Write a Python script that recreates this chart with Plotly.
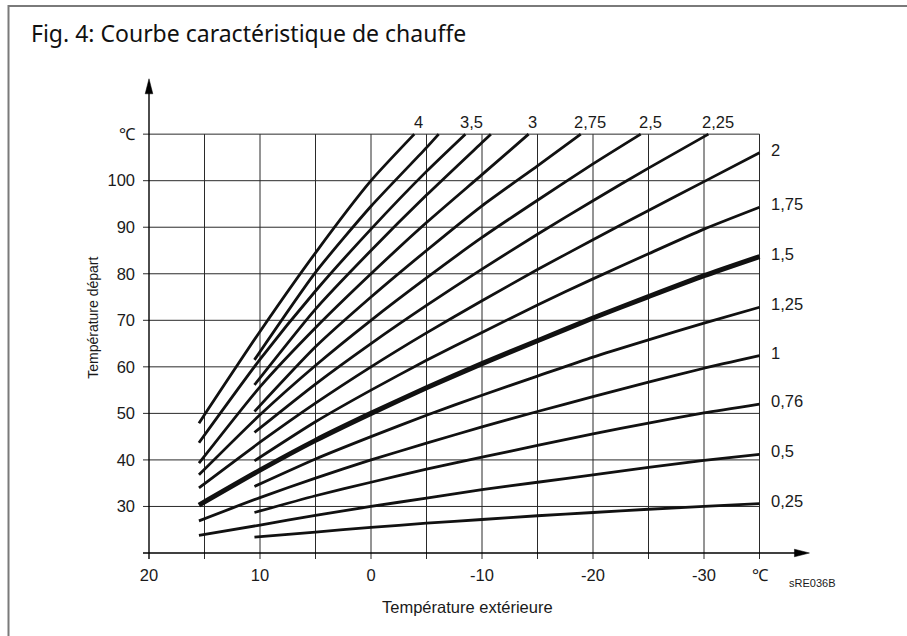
import plotly.graph_objects as go

# ---- axis grids (°C) -------------------------------------------------------
X_GRID = [20, 15, 10, 5, 0, -5, -10, -15, -20, -25, -30, -35]
X_LABELS = ["20", "", "10", "", "0", "", "-10", "", "-20", "", "-30", "℃"]
Y_GRID = [20, 30, 40, 50, 60, 70, 80, 90, 100, 110]
Y_LABELS = ["", "30", "40", "50", "60", "70", "80", "90", "100", "℃"]

# ---- heating curves: outdoor temperature -> flow temperature ---------------
T_OUT_LONG = [15.5, 10, 5, 0, -5, -10, -15, -20, -25, -30, -35]
T_OUT_SHORT = [10.5, 5, 0, -5, -10, -15, -20, -25, -30, -35]

curve_4_x = [15.5, 10, 5, 0, -3.9]
curve_4_y = [47.9, 67.6, 84.5, 100.0, 110]
curve_3_75_x = [10.5, 5, 0, -5, -6.1]
curve_3_75_y = [61.5, 80.3, 94.5, 107.1, 110]
curve_3_5_x = [15.5, 10, 5, 0, -5, -8.5]
curve_3_5_y = [43.7, 61.6, 76.3, 89.6, 102.0, 110]
curve_3_25_x = [10.5, 5, 0, -5, -10, -10.8]
curve_3_25_y = [56.1, 72.4, 85.0, 96.9, 108.2, 110]
curve_3_x = [15.5, 10, 5, 0, -5, -10, -14.2]
curve_3_y = [39.3, 55.7, 68.4, 80.0, 91.0, 101.3, 110]
curve_2_75_x = [10.5, 5, 0, -5, -10, -15, -18.9]
curve_2_75_y = [50.4, 64.3, 75.0, 85.0, 94.6, 103.2, 110]
curve_2_5_x = [15.5, 10, 5, 0, -5, -10, -15, -20, -24.3]
curve_2_5_y = [36.8, 49.7, 60.3, 70.0, 79.1, 87.8, 95.8, 103.6, 110]
curve_2_25_x = [10.5, 5, 0, -5, -10, -15, -20, -25, -30.4]
curve_2_25_y = [45.9, 56.3, 65.0, 73.2, 81.0, 88.5, 95.7, 102.7, 110]
curve_2_y = [34.0, 43.8, 52.2, 60.0, 67.3, 74.2, 80.9, 87.3, 93.6, 99.8, 106.0]
curve_1_75_y = [39.8, 48.2, 55.0, 61.4, 67.4, 73.3, 78.9, 84.3, 89.6, 94.3]
curve_1_5_y = [30.3, 37.8, 44.2, 50.0, 55.5, 60.7, 65.6, 70.5, 75.1, 79.6, 83.7]
curve_1_25_y = [34.3, 40.2, 45.0, 49.6, 53.9, 58.0, 62.1, 65.8, 69.4, 72.8]
curve_1_y = [26.9, 31.9, 36.1, 40.0, 43.6, 47.1, 50.4, 53.6, 56.7, 59.7, 62.4]
curve_0_76_y = [28.7, 32.3, 35.2, 38.0, 40.6, 43.1, 45.6, 47.9, 50.1, 52.0]
curve_0_5_y = [23.8, 26.0, 28.1, 30.0, 31.8, 33.6, 35.2, 36.8, 38.4, 39.9, 41.2]
curve_0_25_y = [23.4, 24.5, 25.5, 26.4, 27.2, 28.0, 28.7, 29.4, 30.0, 30.6]

# (label, x values, y values, label placement)
CURVES = [
    ("4", curve_4_x, curve_4_y, "top"),
    ("3,75", curve_3_75_x, curve_3_75_y, None),
    ("3,5", curve_3_5_x, curve_3_5_y, "top"),
    ("3,25", curve_3_25_x, curve_3_25_y, None),
    ("3", curve_3_x, curve_3_y, "top"),
    ("2,75", curve_2_75_x, curve_2_75_y, "top"),
    ("2,5", curve_2_5_x, curve_2_5_y, "top"),
    ("2,25", curve_2_25_x, curve_2_25_y, "top"),
    ("2", T_OUT_LONG, curve_2_y, "right"),
    ("1,75", T_OUT_SHORT, curve_1_75_y, "right"),
    ("1,5", T_OUT_LONG, curve_1_5_y, "right"),
    ("1,25", T_OUT_SHORT, curve_1_25_y, "right"),
    ("1", T_OUT_LONG, curve_1_y, "right"),
    ("0,76", T_OUT_SHORT, curve_0_76_y, "right"),
    ("0,5", T_OUT_LONG, curve_0_5_y, "right"),
    ("0,25", T_OUT_SHORT, curve_0_25_y, "right"),
]
HIGHLIGHT = "1,5"
TOP_SHIFT = {"4": 4, "3,5": 6, "3": 4, "2,75": 9, "2,5": 10, "2,25": 10}

# ---- page geometry -----------------------------------------------------------
W, H = 907, 636
ORIGIN_PX = (149, 553)          # where (20 °C, 20 °C) sits on the page
PX_PER_X, PX_PER_Y = 11.1, 4.65
TICK_PX = 6                     # tick marks poke out this far past the axes
X_RANGE = [X_GRID[0] + TICK_PX / PX_PER_X, -40]
Y_RANGE = [Y_GRID[0] - TICK_PX / PX_PER_Y, 124]
X_ARROW_TIP = -39.5
Y_ARROW_TIP = 121.9
HEAD_LEN, HEAD_HALF = 15, 3.8   # arrowhead size in pixels

L = ORIGIN_PX[0] - (X_RANGE[0] - X_GRID[0]) * PX_PER_X
R = W - (L + (X_RANGE[0] - X_RANGE[1]) * PX_PER_X)
B = H - ORIGIN_PX[1] - (Y_GRID[0] - Y_RANGE[0]) * PX_PER_Y
T = H - B - (Y_RANGE[1] - Y_RANGE[0]) * PX_PER_Y


def px_to_paper_x(px):
    return (px - L) / (W - L - R)


def px_to_paper_y(py):
    return (H - B - py) / (H - T - B)


TICK_FONT = dict(family="Liberation Sans, Arial, sans-serif", size=16.5, color="#1a1a1a")
INK = "#111111"
GRID = "#2a2a2a"

fig = go.Figure()

for name, xs, ys, _ in CURVES:
    fig.add_trace(go.Scatter(
        x=xs, y=ys, mode="lines", name=name, showlegend=False, hoverinfo="skip",
        line=dict(color=INK, width=5.0 if name == HIGHLIGHT else 2.8,
                  shape="spline", smoothing=0.6),
    ))

shapes = []
# grid lines double as tick marks: they run slightly past the axes
for xv in X_GRID[1:]:
    shapes.append(dict(type="line", xref="x", yref="y", x0=xv, x1=xv,
                       y0=Y_RANGE[0], y1=Y_GRID[-1], layer="below",
                       line=dict(color=GRID, width=1)))
for yv in Y_GRID[1:]:
    shapes.append(dict(type="line", xref="x", yref="y", x0=X_RANGE[0], x1=X_GRID[-1],
                       y0=yv, y1=yv, layer="below",
                       line=dict(color=GRID, width=1)))

# axes with arrowheads
hx = HEAD_LEN / PX_PER_X
hy = HEAD_HALF / PX_PER_Y
shapes.append(dict(type="line", xref="x", yref="y", x0=X_RANGE[0], x1=X_ARROW_TIP + hx * 0.5,
                   y0=Y_GRID[0], y1=Y_GRID[0], line=dict(color="black", width=1.4)))
shapes.append(dict(type="path", xref="x", yref="y",
                   path=(f"M {X_ARROW_TIP + hx} {Y_GRID[0] - hy} "
                         f"L {X_ARROW_TIP + hx} {Y_GRID[0] + hy} "
                         f"L {X_ARROW_TIP} {Y_GRID[0]} Z"),
                   fillcolor="black", line=dict(color="black", width=0.5)))
vy = HEAD_LEN / PX_PER_Y
vx = HEAD_HALF / PX_PER_X
shapes.append(dict(type="line", xref="x", yref="y", x0=X_GRID[0], x1=X_GRID[0],
                   y0=Y_RANGE[0], y1=Y_ARROW_TIP - vy * 0.5, line=dict(color="black", width=1.4)))
shapes.append(dict(type="path", xref="x", yref="y",
                   path=(f"M {X_GRID[0] - vx} {Y_ARROW_TIP - vy} "
                         f"L {X_GRID[0] + vx} {Y_ARROW_TIP - vy} "
                         f"L {X_GRID[0]} {Y_ARROW_TIP} Z"),
                   fillcolor="black", line=dict(color="black", width=0.5)))

# outer frame of the figure
shapes.append(dict(type="rect", xref="paper", yref="paper",
                   x0=px_to_paper_x(8.5), x1=px_to_paper_x(930),
                   y0=px_to_paper_y(660), y1=px_to_paper_y(6.5),
                   line=dict(color="#7a7a7a", width=2)))

annotations = []
for name, xs, ys, place in CURVES:
    if place == "top":
        annotations.append(dict(x=xs[-1], y=ys[-1], xref="x", yref="y", text=name,
                                showarrow=False, xanchor="center", yanchor="middle",
                                xshift=TOP_SHIFT[name], yshift=12, font=TICK_FONT))
    elif place == "right":
        annotations.append(dict(x=xs[-1], y=ys[-1], xref="x", yref="y", text=name,
                                showarrow=False, xanchor="left", yanchor="middle",
                                xshift=9, yshift=3, font=TICK_FONT))

annotations += [
    dict(x=px_to_paper_x(29), y=px_to_paper_y(33), xref="paper", yref="paper",
         text="Fig. 4: Courbe caractéristique de chauffe", showarrow=False,
         xanchor="left", yanchor="middle",
         font=dict(family="Noto Sans, Open Sans, sans-serif", size=23, color="#111111")),
    dict(x=px_to_paper_x(93), y=px_to_paper_y(318), xref="paper", yref="paper",
         text="Température départ", showarrow=False, textangle=-90,
         xanchor="center", yanchor="middle",
         font=dict(family="Liberation Sans, Arial, sans-serif", size=14, color="#1a1a1a")),
    dict(x=px_to_paper_x(467), y=px_to_paper_y(607), xref="paper", yref="paper",
         text="Température extérieure", showarrow=False,
         xanchor="center", yanchor="middle",
         font=dict(family="Liberation Sans, Arial, sans-serif", size=16.5, color="#1a1a1a")),
    dict(x=px_to_paper_x(812), y=px_to_paper_y(583), xref="paper", yref="paper",
         text="sRE036B", showarrow=False, xanchor="center", yanchor="middle",
         font=dict(family="Liberation Sans, Arial, sans-serif", size=11, color="#1a1a1a")),
]

fig.update_layout(
    width=W, height=H,
    margin=dict(l=L, r=R, t=T, b=B, pad=0),
    paper_bgcolor="white", plot_bgcolor="white",
    shapes=shapes, annotations=annotations,
    xaxis=dict(range=X_RANGE, tickmode="array", tickvals=X_GRID, ticktext=X_LABELS,
               ticks="", showgrid=False, zeroline=False, showline=False,
               tickfont=TICK_FONT, ticklabelstandoff=4),
    yaxis=dict(range=Y_RANGE, tickmode="array", tickvals=Y_GRID, ticktext=Y_LABELS,
               ticks="", showgrid=False, zeroline=False, showline=False,
               tickfont=TICK_FONT, ticklabelstandoff=7),
)

fig.write_html("out.html")
